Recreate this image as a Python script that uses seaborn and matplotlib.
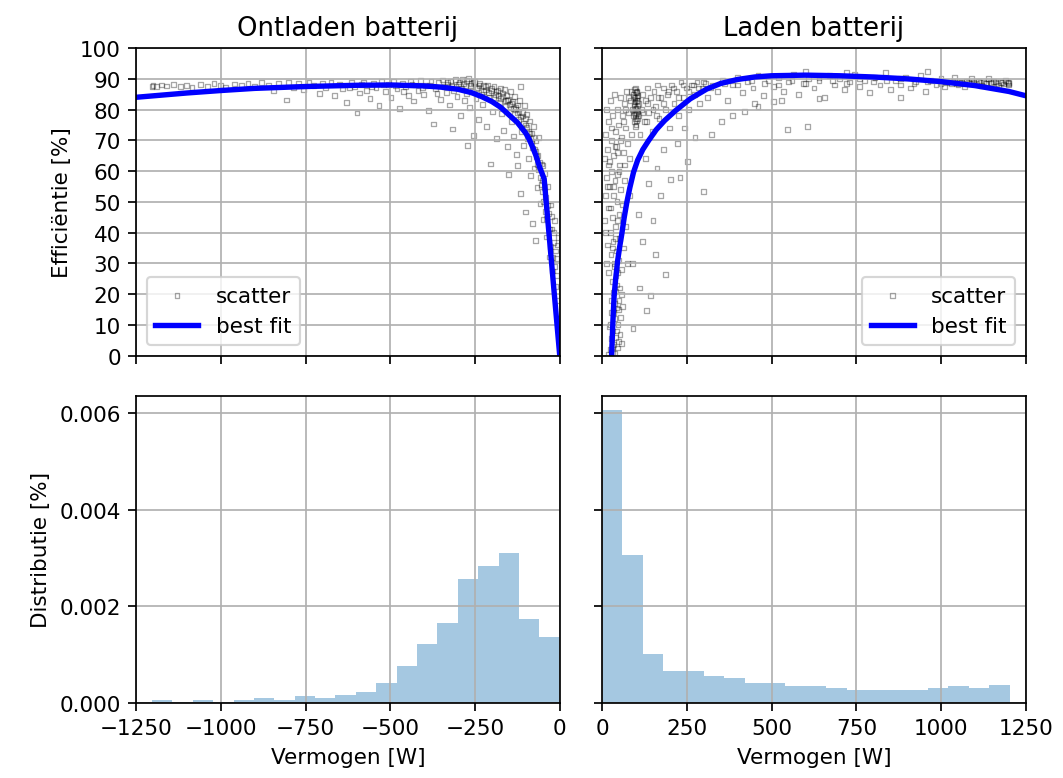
import matplotlib
matplotlib.use("Agg")
import matplotlib.pyplot as plt
import seaborn as sns
import numpy as np
import pandas as pd

# meetpunten (vermogen [W], efficientie [%])
ontladen_punten = [
    (-1203, 87.6), (-1200, 87.9), (-1190, 87.4), (-1175, 88.0), (-1160, 87.7), (-1140, 88.1),
    (-1120, 87.5), (-1100, 87.9), (-1085, 87.3), (-1060, 88.2), (-1040, 87.6), (-1020, 88.4),
    (-1000, 87.8), (-985, 87.1), (-960, 88.3), (-940, 87.9), (-920, 88.6), (-900, 87.4),
    (-880, 88.7), (-860, 88.0), (-845, 86.2), (-830, 88.5), (-805, 83.1), (-800, 88.9),
    (-785, 87.3), (-770, 88.4), (-755, 86.4), (-740, 88.8), (-725, 87.9), (-710, 85.2),
    (-700, 88.6),
    (-690, 87.2), (-675, 88.9), (-665, 84.6), (-650, 88.3), (-640, 86.7), (-628, 82.4),
    (-615, 88.8), (-605, 87.5), (-598, 78.9), (-590, 85.4), (-580, 89.0), (-570, 86.2),
    (-560, 83.5), (-550, 88.6), (-542, 87.1), (-533, 81.2), (-525, 89.1), (-515, 85.8),
    (-505, 88.2), (-498, 83.9), (-490, 89.2), (-480, 86.8), (-472, 80.4), (-465, 88.6),
    (-455, 87.6), (-447, 84.6), (-440, 89.3), (-432, 82.8), (-425, 88.0), (-418, 86.3),
    (-410, 89.5), (-402, 84.9), (-395, 87.8), (-388, 79.6), (-380, 89.2), (-372, 75.3),
    (-366, 86.9), (-358, 88.7), (-352, 83.4),
    (-620, 87.0), (-585, 88.1), (-555, 87.4), (-520, 88.0), (-485, 87.9), (-460, 86.0),
    (-436, 88.1), (-405, 87.2), (-384, 88.0), (-362, 85.2),
    (-345, 89.6), (-340, 87.4), (-335, 85.6), (-330, 88.9), (-325, 81.5), (-320, 87.9),
    (-317, 73.7), (-313, 86.1), (-308, 89.7), (-303, 84.2), (-298, 88.3), (-294, 78.2),
    (-290, 86.9), (-286, 89.9), (-282, 83.0), (-278, 87.7), (-274, 85.3), (-273, 68.3),
    (-270, 90.2), (-266, 80.6), (-262, 88.5), (-258, 86.0), (-254, 71.5), (-251, 89.1),
    (-247, 83.6), (-243, 87.3), (-240, 76.8), (-236, 88.4), (-232, 85.0), (-228, 81.7),
    (-224, 87.8), (-220, 86.4), (-216, 74.5), (-212, 88.0), (-208, 83.8), (-204, 62.3),
    (-201, 86.9), (-198, 79.4), (-194, 87.5), (-190, 84.8), (-186, 70.6), (-182, 86.3),
    (-330, 88.2), (-322, 89.1), (-306, 87.6), (-296, 89.0), (-284, 88.6), (-276, 89.4),
    (-264, 87.9), (-256, 88.8), (-246, 86.9), (-238, 87.8), (-226, 86.0), (-218, 87.4),
    (-210, 85.6), (-202, 86.2), (-196, 84.0), (-188, 85.8),
    (-178, 82.2), (-175, 87.0), (-172, 78.6), (-169, 85.4), (-166, 73.2), (-163, 86.5),
    (-160, 81.0), (-157, 84.6), (-154, 67.9), (-151, 83.3), (-150, 59.0), (-148, 79.0),
    (-145, 85.8), (-142, 76.1), (-139, 82.7), (-136, 71.4), (-133, 84.2), (-130, 79.9),
    (-127, 65.3), (-125, 61.8), (-124, 81.5), (-121, 76.8), (-118, 83.0), (-115, 87.6),
    (-115, 52.6), (-113, 72.9), (-110, 79.1), (-107, 68.4), (-104, 81.2), (-101, 75.0),
    (-100, 46.7),
    (-180, 84.6), (-174, 83.6), (-168, 84.3), (-161, 82.9), (-155, 83.0), (-149, 81.6),
    (-143, 82.0), (-137, 80.4), (-131, 80.8), (-126, 78.9), (-120, 79.4), (-116, 77.6),
    (-111, 77.9), (-106, 75.6), (-102, 77.0),
    (-98, 78.4), (-95, 70.6), (-92, 64.2), (-90, 76.3), (-87, 58.6), (-84, 72.1),
    (-81, 42.9), (-80, 67.5), (-77, 74.4), (-74, 61.0), (-71, 37.4), (-70, 69.8),
    (-67, 54.8), (-64, 65.2), (-61, 71.0), (-58, 49.6), (-55, 62.3), (-52, 57.0),
    (-50, 61.8), (-48, 44.2), (-45, 59.1), (-42, 51.5), (-39, 38.6), (-36, 55.0),
    (-33, 46.3), (-30, 32.1), (-27, 49.0), (-24, 41.2), (-21, 27.5), (-18, 36.8),
    (-15, 44.0), (-12, 22.4), (-9, 31.5), (-6, 18.0), (-4, 38.5), (-2, 12.0),
    (-97, 74.1), (-93, 73.0), (-89, 72.4), (-85, 70.6), (-82, 69.5), (-78, 70.8),
    (-75, 67.2), (-72, 66.5), (-69, 64.8), (-66, 62.1), (-63, 60.4), (-60, 62.8),
    (-57, 58.0), (-54, 55.6), (-51, 53.5), (-47, 50.0), (-44, 54.6), (-41, 46.8),
    (-38, 44.5), (-35, 48.9), (-31, 41.0), (-28, 35.6), (-25, 45.2), (-22, 32.0),
    (-19, 40.0), (-16, 29.0), (-13, 34.0), (-10, 26.0), (-8, 36.0),
]

laden_punten = [
    (20, 0.5), (24, 2.0), (27, 5.5), (30, 1.0), (32, 8.0), (35, 3.5), (37, 12.0), (40, 6.0),
    (42, 15.5), (45, 2.5), (47, 10.0), (50, 18.0), (53, 7.0), (26, 14.0), (33, 20.5), (38, 0.8),
    (44, 23.0), (55, 12.5), (29, 24.0), (48, 4.5), (22, 9.5), (58, 20.0), (36, 17.0), (41, 26.0),
    (25, 10), (28, 18), (31, 3), (34, 14), (39, 21), (43, 8), (46, 27), (49, 15), (52, 22),
    (57, 4), (60, 16),
    (8, 44), (10, 52), (12, 30), (14, 58), (16, 36), (18, 48), (20, 27), (22, 55), (24, 40),
    (26, 33), (28, 60), (30, 45), (32, 37), (34, 52), (36, 29), (38, 57), (40, 42), (42, 34),
    (44, 50), (46, 59), (48, 31), (50, 46), (52, 38), (55, 54), (58, 28), (61, 49), (64, 35),
    (67, 57), (70, 42), (75, 30), (80, 52),
    (35, 30), (30, 35), (40, 38), (45, 44), (25, 48), (33, 55), (50, 60), (20, 62), (38, 68),
    (55, 70), (28, 74), (62, 76), (45, 66), (70, 80), (78, 84), (85, 86), (15, 55), (10, 40),
    (65, 62),
    (6, 64), (9, 72), (12, 80), (15, 67), (18, 76), (21, 63), (24, 83), (27, 70), (30, 78),
    (33, 65), (36, 85), (39, 73), (42, 68), (45, 80), (48, 75), (51, 62), (54, 84), (57, 71),
    (60, 78), (63, 66), (66, 82), (69, 74), (72, 86), (75, 69), (78, 79), (81, 64), (84, 83),
    (87, 72), (90, 80),
    (91, 85), (93, 78), (94, 82), (95, 86.5), (96, 76), (97, 84), (98, 80), (99, 87), (100, 75),
    (101, 83), (102, 79), (103, 86), (104, 77), (105, 81), (106, 84.5), (107, 78), (108, 82),
    (100, 80.5), (98, 74.5), (103, 84), (96, 81),
    (95, 79), (97, 82.5), (99, 77), (101, 85.5), (102, 76.5), (104, 83), (106, 79.5), (94, 84),
    (100, 86), (98, 78.5),
    (112, 72), (116, 80), (120, 85), (124, 76), (128, 83), (133, 87), (138, 79), (143, 84),
    (148, 73), (153, 86), (158, 81), (163, 88), (168, 77), (174, 84), (180, 87), (186, 80),
    (192, 85), (198, 74), (205, 88), (212, 82), (219, 86), (226, 78), (233, 89), (240, 84),
    (248, 87), (256, 80), (264, 88), (272, 85), (280, 89), (288, 82), (296, 87), (304, 88.5),
    (120, 79), (135, 82), (150, 80), (165, 84), (180, 82), (195, 86), (210, 87), (225, 84),
    (240, 88), (255, 86), (270, 88), (285, 87), (300, 89), (130, 76), (160, 78),
    (91, 8.8), (132, 14.7), (142, 19.6), (186, 26.3), (118, 37), (150, 44), (172, 52),
    (201, 57.2), (162, 61), (138, 56), (108, 46), (128, 64), (182, 67), (222, 69), (299, 53.3),
    (252, 63), (274, 71), (242, 74), (322, 72), (352, 76), (385, 78), (420, 79.5), (546, 73.5),
    (606, 74.4), (460, 81), (505, 82.5), (90, 30), (110, 22), (158, 33), (230, 58),
    (310, 84), (325, 88), (340, 86), (355, 89.5), (370, 83), (385, 88), (400, 90.5), (415, 85.5),
    (430, 89), (445, 87), (460, 91), (475, 84.5), (490, 89.5), (505, 87.5), (520, 90.5), (535, 86),
    (550, 89), (565, 91.5), (580, 85), (595, 88.5), (610, 90), (625, 87), (640, 89.5), (655, 84),
    (670, 91), (685, 88), (700, 90), (715, 86.5), (730, 89), (745, 91.5), (760, 87.5), (775, 89.5),
    (790, 85.5), (805, 90.5), (820, 88), (835, 92), (850, 86.5), (865, 89.5), (880, 88), (895, 90.5),
    (910, 87), (925, 89), (940, 91), (955, 86), (970, 89.5), (985, 88), (1000, 90), (1010, 87.5),
    (1020, 89), (1030, 88.5), (1040, 90.5), (1050, 88), (1060, 89), (1070, 87.5), (1080, 88.8),
    (1090, 90), (1100, 88.3), (1110, 89.2), (1120, 87.8), (1130, 88.6), (1140, 90.2), (1150, 88.4),
    (1160, 89), (1170, 87.9), (1180, 88.7), (1190, 89.4), (1200, 88.5), (1200, 88.0), (1195, 89.0),
    (960, 92.5), (720, 92), (880, 84), (640, 83.5), (530, 83), (450, 82), (600, 92.5),
    (320, 87), (360, 88.5), (400, 88), (440, 89.5), (480, 88.5), (520, 88), (560, 89.5),
    (600, 88.5), (640, 90.5), (680, 89.5), (720, 88.5), (760, 90), (800, 89), (840, 89.5),
    (880, 90), (920, 88.5), (960, 89), (1000, 88.5), (1015, 88.8), (1035, 89.1), (1045, 88.6),
    (1055, 88.9), (1065, 88.4), (1075, 89.2), (1085, 88.6), (1095, 88.9), (1105, 88.5),
    (1115, 88.8), (1125, 89.0), (1135, 88.4), (1145, 88.8), (1155, 89.1), (1165, 88.5),
    (1175, 88.9), (1185, 88.3), (1198, 88.8),
]

# best fit curves
fit_ontladen_p = [-1250, -1100, -1000, -900, -750, -600, -500, -400, -350, -300, -260, -230,
                  -200, -175, -150, -125, -100, -90, -80, -70, -60, -46, 0]
fit_ontladen_eff = [84.0, 85.4, 86.2, 86.9, 87.5, 87.9, 88.0, 87.7, 87.3, 86.6, 85.5, 84.2,
                    82.6, 80.8, 78.3, 75.8, 72.3, 70.3, 67.8, 65.0, 61.5, 57.5, 0.0]
fit_laden_p = [28, 30, 32, 35.5, 40, 46, 52, 58, 65, 73, 82, 92.6, 105, 120, 137, 160, 185, 216,
               260, 309, 350, 400, 450, 500, 600, 700, 800, 900, 1000, 1100, 1200, 1250]
fit_laden_eff = [0.0, 6.0, 11.5, 19.6, 25.0, 31.0, 35.5, 39.5, 44.8, 49.9, 54.7, 59.6, 63.6, 67.0,
                 69.9, 73.5, 76.5, 79.6, 83.5, 86.7, 88.5, 89.8, 90.6, 91.0, 91.2, 91.0, 90.6,
                 90.0, 89.1, 87.8, 85.9, 84.5]

# histogram hoogtes (20 bins)
hist_ontladen = [0.000062, 0.000028, 0.00006, 0.00003, 0.00006, 0.0001, 0.00006, 0.00014, 0.0001, 0.00017,
                 0.00024, 0.00042, 0.00077, 0.00123, 0.00165, 0.00257, 0.00284, 0.0031, 0.00173, 0.00137]
hist_laden = [0.00605, 0.003055, 0.001014, 0.000662, 0.000662, 0.000559, 0.000524, 0.000421, 0.000421, 0.000352,
              0.000352, 0.00031, 0.000276, 0.000276, 0.000276, 0.000276, 0.00031, 0.000352, 0.00031, 0.000386]
rand_ontladen = (-1203, 0)
rand_laden = (0, 1202)

titels = ["Ontladen batterij", "Laden batterij"]


def main():
    fig, axes = plt.subplots(2, 2, sharex="col", sharey="row",
                             figsize=(1063 / 155, 779 / 155), dpi=155)
    fig.subplots_adjust(left=0.128, right=0.965, top=0.937, bottom=0.096,
                        wspace=0.10, hspace=0.13)

    sets = [
        (ontladen_punten, fit_ontladen_p, fit_ontladen_eff, hist_ontladen, rand_ontladen, "lower left", (-1250, 0)),
        (laden_punten, fit_laden_p, fit_laden_eff, hist_laden, rand_laden, "lower right", (0, 1250)),
    ]

    for col, (punten, fp, fe, hoogtes, rand, loc, xlim) in enumerate(sets):
        ax = axes[0, col]
        df = pd.DataFrame(punten, columns=["p", "eff"])
        sns.scatterplot(data=df, x="p", y="eff", marker="s", s=5, facecolor="none",
                        edgecolor="black", linewidth=0.6, alpha=0.35, label="scatter", ax=ax)
        sns.lineplot(x=fp, y=fe, color="blue", linewidth=2.5, label="best fit", ax=ax)
        ax.legend(loc=loc)
        ax.set_title(titels[col], fontsize=12)
        ax.set_ylim(0, 100)
        ax.set_yticks(range(0, 101, 10))
        ax.set_xlabel("")
        ax.set_ylabel("")
        ax.grid(True)

        # histogram
        ax2 = axes[1, col]
        randen = np.linspace(rand[0], rand[1], len(hoogtes) + 1)
        midden = (randen[:-1] + randen[1:]) / 2
        hdf = pd.DataFrame({"p": midden, "w": hoogtes})
        sns.histplot(data=hdf, x="p", weights="w", bins=list(randen), color="tab:blue", alpha=0.4,
                     linewidth=0, edgecolor="none", ax=ax2)
        ax2.set_xlim(*xlim)
        ax2.set_xticks(np.arange(xlim[0], xlim[1] + 1, 250))
        ax2.set_xlabel("Vermogen [W]")
        ax2.set_ylabel("")
        ax2.grid(True)

    axes[1, 0].set_yticks([0, 0.002, 0.004, 0.006])
    axes[0, 0].set_ylabel("Efficiëntie [%]")
    axes[1, 0].set_ylabel("Distributie [%]")

    fig.savefig("out.png", dpi=155)


if __name__ == "__main__":
    main()
